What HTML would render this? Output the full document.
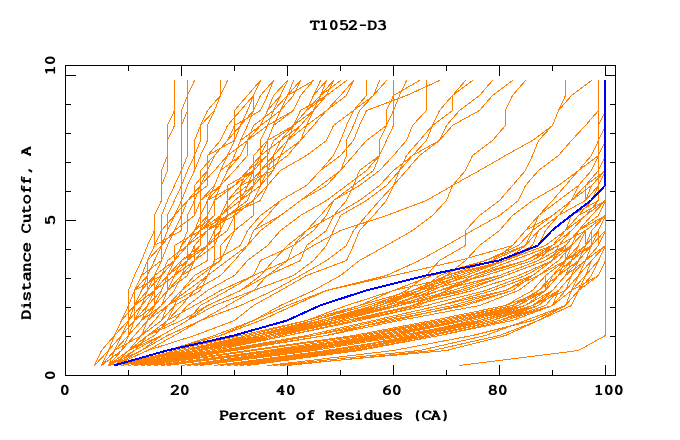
<!DOCTYPE html>
<html><head><meta charset="utf-8">
<title>T1052-D3</title>
<style>
html,body{margin:0;padding:0;background:#fff;}
body{width:680px;height:440px;overflow:hidden;}
svg{display:block;}
text{font-family:"Liberation Mono",monospace;font-weight:bold;font-size:16px;visibility:hidden;}
</style></head><body>
<svg width="680" height="440" viewBox="0 0 680 440">
<rect width="680" height="440" fill="#fff"/>
<g id="axes" fill="none" stroke="#000" stroke-width="1" shape-rendering="crispEdges">
<rect x="65.5" y="65.5" width="550" height="310"/>
<path d="M65.5 75.5h10M65.5 220.5h10M615.5 75.5h-11M615.5 220.5h-11"/>
<path d="M65.5 104.5h5M65.5 133.5h5M65.5 162.5h5M65.5 191.5h5M65.5 249.5h5M65.5 278.5h5M65.5 307.5h5M65.5 336.5h5"/>
<path d="M615.5 104.5h-6M615.5 133.5h-6M615.5 162.5h-6M615.5 191.5h-6M615.5 249.5h-6M615.5 278.5h-6M615.5 307.5h-6M615.5 336.5h-6"/>
<path d="M181.5 65.5v10M287.5 65.5v10M393.5 65.5v10M499.5 65.5v10M605.5 65.5v10M181.5 375.5v-11M287.5 375.5v-11M393.5 375.5v-11M499.5 375.5v-11M605.5 375.5v-11"/>
<path d="M128.5 65.5v5M234.5 65.5v5M340.5 65.5v5M446.5 65.5v5M552.5 65.5v5M128.5 375.5v-6M234.5 375.5v-6M340.5 375.5v-6M446.5 375.5v-6M552.5 375.5v-6"/>
</g>
<g id="lines" fill="none" stroke="#ff7f00" stroke-width="1" stroke-linecap="square" shape-rendering="crispEdges">
<path d="M174.5 80.5L174.5 95.5M187.5 80.5L187.5 95.5M194.5 80.5L187.5 95.5M220.5 80.5L220.5 95.5M227.5 80.5L220.5 95.5M260.5 80.5L247.5 95.5M260.5 80.5L253.5 95.5M273.5 80.5L260.5 95.5M273.5 80.5L267.5 95.5M287.5 80.5L273.5 95.5M287.5 80.5L280.5 95.5M293.5 80.5L287.5 95.5M300.5 80.5L287.5 95.5M300.5 80.5L293.5 95.5M313.5 80.5L287.5 95.5M313.5 80.5L300.5 95.5M320.5 80.5L313.5 95.5M326.5 80.5L313.5 95.5M326.5 80.5L320.5 95.5M333.5 80.5L320.5 95.5M333.5 80.5L326.5 95.5M340.5 80.5L320.5 95.5M346.5 80.5L326.5 95.5M353.5 80.5L340.5 95.5M353.5 80.5L346.5 95.5M366.5 80.5L366.5 95.5M379.5 80.5L373.5 95.5M386.5 80.5L373.5 95.5M393.5 80.5L393.5 95.5M406.5 80.5L399.5 95.5M419.5 80.5L393.5 95.5M426.5 80.5L426.5 95.5M439.5 80.5L406.5 95.5M465.5 80.5L452.5 95.5M472.5 80.5L452.5 95.5M492.5 80.5L479.5 95.5M512.5 80.5L492.5 95.5M525.5 80.5L512.5 95.5M565.5 80.5L565.5 95.5M591.5 80.5L571.5 95.5M598.5 80.5L598.5 95.5M605.5 80.5L605.5 95.5M174.5 95.5L174.5 110.5M187.5 95.5L181.5 110.5M187.5 95.5L187.5 110.5M220.5 95.5L207.5 110.5M220.5 95.5L214.5 110.5M247.5 95.5L234.5 110.5M253.5 95.5L240.5 110.5M253.5 95.5L247.5 110.5M253.5 95.5L253.5 110.5M260.5 95.5L253.5 110.5M267.5 95.5L260.5 110.5M273.5 95.5L267.5 110.5M280.5 95.5L267.5 110.5M280.5 95.5L273.5 110.5M287.5 95.5L273.5 110.5M287.5 95.5L280.5 110.5M293.5 95.5L280.5 110.5M300.5 95.5L293.5 110.5M313.5 95.5L306.5 110.5M320.5 95.5L306.5 110.5M320.5 95.5L313.5 110.5M326.5 95.5L300.5 110.5M326.5 95.5L306.5 110.5M326.5 95.5L313.5 110.5M340.5 95.5L326.5 110.5M346.5 95.5L326.5 110.5M366.5 95.5L353.5 110.5M373.5 95.5L353.5 110.5M373.5 95.5L359.5 110.5M393.5 95.5L386.5 110.5M393.5 95.5L393.5 110.5M399.5 95.5L393.5 110.5M406.5 95.5L366.5 110.5M426.5 95.5L426.5 110.5M452.5 95.5L439.5 110.5M452.5 95.5L452.5 110.5M479.5 95.5L459.5 110.5M492.5 95.5L479.5 110.5M512.5 95.5L505.5 110.5M565.5 95.5L558.5 110.5M571.5 95.5L558.5 110.5M598.5 95.5L598.5 110.5M605.5 95.5L605.5 110.5M174.5 110.5L167.5 125.5M174.5 110.5L174.5 125.5M181.5 110.5L181.5 125.5M187.5 110.5L181.5 125.5M187.5 110.5L187.5 125.5M207.5 110.5L200.5 125.5M214.5 110.5L200.5 125.5M214.5 110.5L207.5 125.5M234.5 110.5L234.5 125.5M240.5 110.5L227.5 125.5M247.5 110.5L240.5 125.5M253.5 110.5L240.5 125.5M253.5 110.5L247.5 125.5M260.5 110.5L234.5 125.5M267.5 110.5L260.5 125.5M273.5 110.5L253.5 125.5M273.5 110.5L267.5 125.5M280.5 110.5L260.5 125.5M280.5 110.5L273.5 125.5M293.5 110.5L267.5 125.5M293.5 110.5L273.5 125.5M300.5 110.5L293.5 125.5M306.5 110.5L293.5 125.5M313.5 110.5L293.5 125.5M313.5 110.5L300.5 125.5M313.5 110.5L306.5 125.5M326.5 110.5L306.5 125.5M326.5 110.5L313.5 125.5M353.5 110.5L333.5 125.5M353.5 110.5L346.5 125.5M359.5 110.5L353.5 125.5M366.5 110.5L359.5 125.5M386.5 110.5L386.5 125.5M393.5 110.5L386.5 125.5M393.5 110.5L393.5 125.5M426.5 110.5L412.5 125.5M439.5 110.5L432.5 125.5M452.5 110.5L432.5 125.5M459.5 110.5L446.5 125.5M479.5 110.5L452.5 125.5M505.5 110.5L505.5 125.5M558.5 110.5L552.5 125.5M598.5 110.5L585.5 125.5M598.5 110.5L598.5 125.5M605.5 110.5L598.5 125.5M605.5 110.5L605.5 125.5M167.5 125.5L167.5 140.5M174.5 125.5L167.5 140.5M181.5 125.5L181.5 140.5M187.5 125.5L187.5 140.5M200.5 125.5L194.5 140.5M200.5 125.5L200.5 140.5M207.5 125.5L207.5 140.5M227.5 125.5L220.5 140.5M234.5 125.5L227.5 140.5M234.5 125.5L234.5 140.5M240.5 125.5L227.5 140.5M240.5 125.5L234.5 140.5M247.5 125.5L240.5 140.5M253.5 125.5L247.5 140.5M260.5 125.5L240.5 140.5M260.5 125.5L247.5 140.5M267.5 125.5L247.5 140.5M267.5 125.5L260.5 140.5M273.5 125.5L267.5 140.5M293.5 125.5L267.5 140.5M293.5 125.5L273.5 140.5M293.5 125.5L280.5 140.5M293.5 125.5L287.5 140.5M300.5 125.5L280.5 140.5M300.5 125.5L287.5 140.5M306.5 125.5L287.5 140.5M306.5 125.5L300.5 140.5M313.5 125.5L300.5 140.5M333.5 125.5L326.5 140.5M346.5 125.5L340.5 140.5M353.5 125.5L346.5 140.5M359.5 125.5L353.5 140.5M386.5 125.5L366.5 140.5M386.5 125.5L379.5 140.5M393.5 125.5L386.5 140.5M412.5 125.5L406.5 140.5M432.5 125.5L419.5 140.5M432.5 125.5L426.5 140.5M446.5 125.5L439.5 140.5M452.5 125.5L439.5 140.5M505.5 125.5L492.5 140.5M552.5 125.5L532.5 140.5M552.5 125.5L538.5 140.5M585.5 125.5L571.5 140.5M598.5 125.5L598.5 140.5M605.5 125.5L598.5 140.5M605.5 125.5L605.5 140.5M167.5 140.5L167.5 155.5M181.5 140.5L181.5 155.5M187.5 140.5L187.5 155.5M194.5 140.5L194.5 155.5M200.5 140.5L194.5 155.5M207.5 140.5L200.5 155.5M220.5 140.5L207.5 155.5M227.5 140.5L214.5 155.5M234.5 140.5L207.5 155.5M234.5 140.5L227.5 155.5M240.5 140.5L234.5 155.5M247.5 140.5L227.5 155.5M247.5 140.5L240.5 155.5M247.5 140.5L247.5 155.5M260.5 140.5L260.5 155.5M267.5 140.5L253.5 155.5M267.5 140.5L260.5 155.5M267.5 140.5L267.5 155.5M273.5 140.5L267.5 155.5M280.5 140.5L260.5 155.5M280.5 140.5L273.5 155.5M287.5 140.5L273.5 155.5M287.5 140.5L280.5 155.5M300.5 140.5L280.5 155.5M300.5 140.5L287.5 155.5M326.5 140.5L306.5 155.5M340.5 140.5L333.5 155.5M346.5 140.5L346.5 155.5M353.5 140.5L340.5 155.5M366.5 140.5L353.5 155.5M379.5 140.5L379.5 155.5M386.5 140.5L379.5 155.5M406.5 140.5L393.5 155.5M419.5 140.5L406.5 155.5M426.5 140.5L412.5 155.5M439.5 140.5L412.5 155.5M439.5 140.5L419.5 155.5M492.5 140.5L472.5 155.5M532.5 140.5L505.5 155.5M538.5 140.5L532.5 155.5M571.5 140.5L558.5 155.5M598.5 140.5L591.5 155.5M598.5 140.5L598.5 155.5M605.5 140.5L598.5 155.5M605.5 140.5L605.5 155.5M167.5 155.5L161.5 170.5M167.5 155.5L167.5 170.5M181.5 155.5L181.5 170.5M187.5 155.5L181.5 170.5M194.5 155.5L187.5 170.5M194.5 155.5L194.5 170.5M200.5 155.5L194.5 170.5M207.5 155.5L207.5 170.5M214.5 155.5L200.5 170.5M214.5 155.5L207.5 170.5M227.5 155.5L214.5 170.5M227.5 155.5L220.5 170.5M234.5 155.5L227.5 170.5M240.5 155.5L220.5 170.5M240.5 155.5L227.5 170.5M247.5 155.5L234.5 170.5M253.5 155.5L253.5 170.5M260.5 155.5L247.5 170.5M260.5 155.5L253.5 170.5M260.5 155.5L260.5 170.5M267.5 155.5L247.5 170.5M267.5 155.5L253.5 170.5M267.5 155.5L267.5 170.5M273.5 155.5L260.5 170.5M273.5 155.5L267.5 170.5M273.5 155.5L273.5 170.5M280.5 155.5L260.5 170.5M280.5 155.5L273.5 170.5M287.5 155.5L267.5 170.5M306.5 155.5L280.5 170.5M333.5 155.5L320.5 170.5M340.5 155.5L320.5 170.5M346.5 155.5L340.5 170.5M353.5 155.5L340.5 170.5M379.5 155.5L359.5 170.5M379.5 155.5L366.5 170.5M379.5 155.5L373.5 170.5M393.5 155.5L379.5 170.5M406.5 155.5L399.5 170.5M412.5 155.5L393.5 170.5M412.5 155.5L399.5 170.5M419.5 155.5L406.5 170.5M472.5 155.5L465.5 170.5M505.5 155.5L479.5 170.5M532.5 155.5L525.5 170.5M558.5 155.5L538.5 170.5M591.5 155.5L578.5 170.5M598.5 155.5L578.5 170.5M598.5 155.5L591.5 170.5M598.5 155.5L598.5 170.5M605.5 155.5L598.5 170.5M605.5 155.5L605.5 170.5M161.5 170.5L161.5 185.5M167.5 170.5L161.5 185.5M181.5 170.5L174.5 185.5M181.5 170.5L181.5 185.5M187.5 170.5L181.5 185.5M194.5 170.5L187.5 185.5M200.5 170.5L200.5 185.5M207.5 170.5L194.5 185.5M207.5 170.5L200.5 185.5M207.5 170.5L207.5 185.5M214.5 170.5L200.5 185.5M220.5 170.5L214.5 185.5M227.5 170.5L220.5 185.5M234.5 170.5L220.5 185.5M247.5 170.5L234.5 185.5M247.5 170.5L240.5 185.5M253.5 170.5L227.5 185.5M253.5 170.5L234.5 185.5M253.5 170.5L240.5 185.5M253.5 170.5L247.5 185.5M253.5 170.5L253.5 185.5M260.5 170.5L247.5 185.5M260.5 170.5L253.5 185.5M260.5 170.5L260.5 185.5M267.5 170.5L253.5 185.5M267.5 170.5L260.5 185.5M267.5 170.5L267.5 185.5M273.5 170.5L240.5 185.5M273.5 170.5L260.5 185.5M280.5 170.5L267.5 185.5M320.5 170.5L306.5 185.5M340.5 170.5L320.5 185.5M340.5 170.5L326.5 185.5M359.5 170.5L353.5 185.5M366.5 170.5L346.5 185.5M373.5 170.5L353.5 185.5M379.5 170.5L359.5 185.5M393.5 170.5L379.5 185.5M399.5 170.5L386.5 185.5M399.5 170.5L393.5 185.5M406.5 170.5L393.5 185.5M465.5 170.5L452.5 185.5M479.5 170.5L452.5 185.5M525.5 170.5L512.5 185.5M538.5 170.5L525.5 185.5M578.5 170.5L558.5 185.5M578.5 170.5L565.5 185.5M591.5 170.5L578.5 185.5M598.5 170.5L585.5 185.5M598.5 170.5L598.5 185.5M605.5 170.5L585.5 185.5M605.5 170.5L591.5 185.5M605.5 170.5L598.5 185.5M605.5 170.5L605.5 185.5M161.5 185.5L161.5 200.5M174.5 185.5L167.5 200.5M181.5 185.5L174.5 200.5M181.5 185.5L181.5 200.5M187.5 185.5L181.5 200.5M194.5 185.5L194.5 200.5M200.5 185.5L187.5 200.5M200.5 185.5L194.5 200.5M200.5 185.5L200.5 200.5M207.5 185.5L187.5 200.5M214.5 185.5L200.5 200.5M214.5 185.5L207.5 200.5M220.5 185.5L200.5 200.5M220.5 185.5L207.5 200.5M220.5 185.5L214.5 200.5M227.5 185.5L227.5 200.5M234.5 185.5L207.5 200.5M234.5 185.5L214.5 200.5M240.5 185.5L227.5 200.5M240.5 185.5L240.5 200.5M247.5 185.5L227.5 200.5M247.5 185.5L240.5 200.5M253.5 185.5L234.5 200.5M253.5 185.5L240.5 200.5M253.5 185.5L247.5 200.5M260.5 185.5L240.5 200.5M260.5 185.5L253.5 200.5M267.5 185.5L253.5 200.5M267.5 185.5L260.5 200.5M306.5 185.5L280.5 200.5M320.5 185.5L300.5 200.5M326.5 185.5L300.5 200.5M346.5 185.5L326.5 200.5M353.5 185.5L333.5 200.5M353.5 185.5L346.5 200.5M359.5 185.5L333.5 200.5M379.5 185.5L359.5 200.5M386.5 185.5L366.5 200.5M393.5 185.5L379.5 200.5M393.5 185.5L386.5 200.5M452.5 185.5L426.5 200.5M452.5 185.5L446.5 200.5M512.5 185.5L499.5 200.5M525.5 185.5L518.5 200.5M558.5 185.5L532.5 200.5M565.5 185.5L552.5 200.5M578.5 185.5L558.5 200.5M578.5 185.5L571.5 200.5M585.5 185.5L571.5 200.5M585.5 185.5L585.5 200.5M591.5 185.5L571.5 200.5M591.5 185.5L585.5 200.5M598.5 185.5L585.5 200.5M598.5 185.5L591.5 200.5M598.5 185.5L598.5 200.5M605.5 185.5L591.5 200.5M605.5 185.5L605.5 200.5M161.5 200.5L154.5 215.5M167.5 200.5L161.5 215.5M174.5 200.5L167.5 215.5M181.5 200.5L174.5 215.5M181.5 200.5L181.5 215.5M187.5 200.5L174.5 215.5M187.5 200.5L181.5 215.5M194.5 200.5L187.5 215.5M194.5 200.5L194.5 215.5M200.5 200.5L194.5 215.5M200.5 200.5L200.5 215.5M207.5 200.5L200.5 215.5M207.5 200.5L207.5 215.5M214.5 200.5L207.5 215.5M214.5 200.5L214.5 215.5M227.5 200.5L220.5 215.5M227.5 200.5L227.5 215.5M234.5 200.5L220.5 215.5M240.5 200.5L220.5 215.5M240.5 200.5L234.5 215.5M247.5 200.5L227.5 215.5M253.5 200.5L227.5 215.5M253.5 200.5L234.5 215.5M253.5 200.5L253.5 215.5M260.5 200.5L227.5 215.5M280.5 200.5L260.5 215.5M280.5 200.5L267.5 215.5M300.5 200.5L280.5 215.5M326.5 200.5L300.5 215.5M333.5 200.5L320.5 215.5M333.5 200.5L326.5 215.5M346.5 200.5L333.5 215.5M359.5 200.5L333.5 215.5M366.5 200.5L340.5 215.5M379.5 200.5L366.5 215.5M386.5 200.5L373.5 215.5M426.5 200.5L386.5 215.5M446.5 200.5L432.5 215.5M499.5 200.5L479.5 215.5M518.5 200.5L499.5 215.5M532.5 200.5L512.5 215.5M552.5 200.5L538.5 215.5M558.5 200.5L538.5 215.5M571.5 200.5L552.5 215.5M571.5 200.5L558.5 215.5M585.5 200.5L558.5 215.5M591.5 200.5L578.5 215.5M598.5 200.5L571.5 215.5M598.5 200.5L585.5 215.5M605.5 200.5L578.5 215.5M605.5 200.5L585.5 215.5M605.5 200.5L591.5 215.5M605.5 200.5L598.5 215.5M605.5 200.5L605.5 215.5M154.5 215.5L154.5 230.5M161.5 215.5L161.5 230.5M167.5 215.5L167.5 230.5M174.5 215.5L161.5 230.5M174.5 215.5L167.5 230.5M181.5 215.5L174.5 230.5M181.5 215.5L181.5 230.5M187.5 215.5L187.5 230.5M194.5 215.5L174.5 230.5M200.5 215.5L194.5 230.5M200.5 215.5L200.5 230.5M207.5 215.5L194.5 230.5M207.5 215.5L200.5 230.5M207.5 215.5L207.5 230.5M214.5 215.5L194.5 230.5M214.5 215.5L200.5 230.5M220.5 215.5L200.5 230.5M220.5 215.5L207.5 230.5M220.5 215.5L214.5 230.5M220.5 215.5L220.5 230.5M227.5 215.5L200.5 230.5M227.5 215.5L207.5 230.5M227.5 215.5L214.5 230.5M227.5 215.5L220.5 230.5M234.5 215.5L207.5 230.5M234.5 215.5L227.5 230.5M234.5 215.5L234.5 230.5M253.5 215.5L234.5 230.5M260.5 215.5L247.5 230.5M267.5 215.5L253.5 230.5M280.5 215.5L253.5 230.5M280.5 215.5L260.5 230.5M300.5 215.5L280.5 230.5M320.5 215.5L306.5 230.5M326.5 215.5L313.5 230.5M333.5 215.5L306.5 230.5M333.5 215.5L326.5 230.5M340.5 215.5L333.5 230.5M366.5 215.5L353.5 230.5M373.5 215.5L359.5 230.5M386.5 215.5L340.5 230.5M432.5 215.5L412.5 230.5M479.5 215.5L465.5 230.5M499.5 215.5L472.5 230.5M512.5 215.5L499.5 230.5M538.5 215.5L525.5 230.5M538.5 215.5L532.5 230.5M552.5 215.5L525.5 230.5M552.5 215.5L532.5 230.5M558.5 215.5L538.5 230.5M558.5 215.5L545.5 230.5M571.5 215.5L565.5 230.5M578.5 215.5L565.5 230.5M585.5 215.5L565.5 230.5M585.5 215.5L571.5 230.5M591.5 215.5L578.5 230.5M598.5 215.5L578.5 230.5M605.5 215.5L578.5 230.5M605.5 215.5L585.5 230.5M605.5 215.5L591.5 230.5M605.5 215.5L598.5 230.5M605.5 215.5L605.5 230.5M154.5 230.5L147.5 245.5M154.5 230.5L154.5 245.5M161.5 230.5L154.5 245.5M161.5 230.5L161.5 245.5M167.5 230.5L161.5 245.5M174.5 230.5L161.5 245.5M174.5 230.5L167.5 245.5M181.5 230.5L154.5 245.5M187.5 230.5L181.5 245.5M194.5 230.5L181.5 245.5M194.5 230.5L187.5 245.5M200.5 230.5L174.5 245.5M200.5 230.5L187.5 245.5M200.5 230.5L200.5 245.5M207.5 230.5L187.5 245.5M207.5 230.5L194.5 245.5M207.5 230.5L207.5 245.5M214.5 230.5L207.5 245.5M214.5 230.5L214.5 245.5M220.5 230.5L207.5 245.5M220.5 230.5L214.5 245.5M227.5 230.5L207.5 245.5M234.5 230.5L220.5 245.5M234.5 230.5L227.5 245.5M247.5 230.5L240.5 245.5M253.5 230.5L247.5 245.5M260.5 230.5L247.5 245.5M280.5 230.5L267.5 245.5M306.5 230.5L287.5 245.5M306.5 230.5L293.5 245.5M313.5 230.5L293.5 245.5M326.5 230.5L306.5 245.5M333.5 230.5L326.5 245.5M340.5 230.5L313.5 245.5M353.5 230.5L346.5 245.5M359.5 230.5L353.5 245.5M412.5 230.5L386.5 245.5M465.5 230.5L465.5 245.5M472.5 230.5L446.5 245.5M499.5 230.5L479.5 245.5M525.5 230.5L512.5 245.5M532.5 230.5L518.5 245.5M532.5 230.5L525.5 245.5M538.5 230.5L525.5 245.5M538.5 230.5L532.5 245.5M545.5 230.5L538.5 245.5M565.5 230.5L545.5 245.5M565.5 230.5L552.5 245.5M571.5 230.5L552.5 245.5M571.5 230.5L558.5 245.5M578.5 230.5L565.5 245.5M578.5 230.5L571.5 245.5M585.5 230.5L558.5 245.5M585.5 230.5L571.5 245.5M585.5 230.5L578.5 245.5M585.5 230.5L585.5 245.5M591.5 230.5L585.5 245.5M591.5 230.5L591.5 245.5M598.5 230.5L585.5 245.5M598.5 230.5L591.5 245.5M598.5 230.5L598.5 245.5M605.5 230.5L591.5 245.5M605.5 230.5L598.5 245.5M605.5 230.5L605.5 245.5M147.5 245.5L141.5 260.5M154.5 245.5L147.5 260.5M161.5 245.5L147.5 260.5M161.5 245.5L154.5 260.5M161.5 245.5L161.5 260.5M167.5 245.5L161.5 260.5M174.5 245.5L174.5 260.5M181.5 245.5L174.5 260.5M187.5 245.5L167.5 260.5M187.5 245.5L174.5 260.5M187.5 245.5L187.5 260.5M194.5 245.5L187.5 260.5M194.5 245.5L194.5 260.5M200.5 245.5L181.5 260.5M200.5 245.5L187.5 260.5M207.5 245.5L181.5 260.5M207.5 245.5L187.5 260.5M207.5 245.5L194.5 260.5M207.5 245.5L207.5 260.5M214.5 245.5L194.5 260.5M214.5 245.5L214.5 260.5M220.5 245.5L220.5 260.5M227.5 245.5L220.5 260.5M240.5 245.5L214.5 260.5M247.5 245.5L227.5 260.5M247.5 245.5L234.5 260.5M267.5 245.5L247.5 260.5M287.5 245.5L273.5 260.5M293.5 245.5L260.5 260.5M293.5 245.5L287.5 260.5M306.5 245.5L300.5 260.5M313.5 245.5L287.5 260.5M326.5 245.5L313.5 260.5M346.5 245.5L326.5 260.5M353.5 245.5L346.5 260.5M386.5 245.5L359.5 260.5M446.5 245.5L419.5 260.5M465.5 245.5L439.5 260.5M479.5 245.5L465.5 260.5M512.5 245.5L459.5 260.5M512.5 245.5L492.5 260.5M518.5 245.5L485.5 260.5M525.5 245.5L485.5 260.5M525.5 245.5L492.5 260.5M525.5 245.5L505.5 260.5M532.5 245.5L505.5 260.5M538.5 245.5L505.5 260.5M545.5 245.5L505.5 260.5M552.5 245.5L512.5 260.5M552.5 245.5L525.5 260.5M552.5 245.5L532.5 260.5M552.5 245.5L538.5 260.5M558.5 245.5L525.5 260.5M558.5 245.5L532.5 260.5M558.5 245.5L552.5 260.5M565.5 245.5L538.5 260.5M565.5 245.5L545.5 260.5M565.5 245.5L552.5 260.5M565.5 245.5L565.5 260.5M571.5 245.5L545.5 260.5M571.5 245.5L552.5 260.5M571.5 245.5L558.5 260.5M571.5 245.5L565.5 260.5M578.5 245.5L565.5 260.5M578.5 245.5L571.5 260.5M585.5 245.5L565.5 260.5M585.5 245.5L571.5 260.5M585.5 245.5L578.5 260.5M591.5 245.5L565.5 260.5M591.5 245.5L571.5 260.5M591.5 245.5L578.5 260.5M591.5 245.5L585.5 260.5M598.5 245.5L585.5 260.5M605.5 245.5L585.5 260.5M605.5 245.5L591.5 260.5M605.5 245.5L598.5 260.5M605.5 245.5L605.5 260.5M141.5 260.5L134.5 275.5M147.5 260.5L141.5 275.5M147.5 260.5L147.5 275.5M154.5 260.5L147.5 275.5M161.5 260.5L141.5 275.5M161.5 260.5L154.5 275.5M167.5 260.5L161.5 275.5M174.5 260.5L154.5 275.5M174.5 260.5L161.5 275.5M174.5 260.5L167.5 275.5M181.5 260.5L167.5 275.5M181.5 260.5L174.5 275.5M187.5 260.5L167.5 275.5M187.5 260.5L174.5 275.5M187.5 260.5L181.5 275.5M194.5 260.5L174.5 275.5M194.5 260.5L181.5 275.5M194.5 260.5L187.5 275.5M207.5 260.5L181.5 275.5M214.5 260.5L207.5 275.5M220.5 260.5L194.5 275.5M220.5 260.5L200.5 275.5M227.5 260.5L207.5 275.5M234.5 260.5L220.5 275.5M247.5 260.5L234.5 275.5M260.5 260.5L253.5 275.5M273.5 260.5L260.5 275.5M287.5 260.5L253.5 275.5M287.5 260.5L267.5 275.5M300.5 260.5L267.5 275.5M313.5 260.5L293.5 275.5M326.5 260.5L300.5 275.5M346.5 260.5L306.5 275.5M359.5 260.5L340.5 275.5M419.5 260.5L386.5 275.5M439.5 260.5L426.5 275.5M459.5 260.5L393.5 275.5M465.5 260.5L446.5 275.5M485.5 260.5L432.5 275.5M485.5 260.5L439.5 275.5M492.5 260.5L446.5 275.5M505.5 260.5L446.5 275.5M505.5 260.5L452.5 275.5M505.5 260.5L459.5 275.5M505.5 260.5L465.5 275.5M512.5 260.5L472.5 275.5M525.5 260.5L472.5 275.5M525.5 260.5L479.5 275.5M532.5 260.5L485.5 275.5M538.5 260.5L499.5 275.5M545.5 260.5L505.5 275.5M552.5 260.5L518.5 275.5M552.5 260.5L525.5 275.5M552.5 260.5L532.5 275.5M558.5 260.5L538.5 275.5M565.5 260.5L538.5 275.5M565.5 260.5L545.5 275.5M565.5 260.5L552.5 275.5M565.5 260.5L558.5 275.5M571.5 260.5L552.5 275.5M571.5 260.5L558.5 275.5M571.5 260.5L565.5 275.5M578.5 260.5L558.5 275.5M578.5 260.5L565.5 275.5M578.5 260.5L571.5 275.5M585.5 260.5L565.5 275.5M585.5 260.5L571.5 275.5M585.5 260.5L578.5 275.5M591.5 260.5L578.5 275.5M591.5 260.5L585.5 275.5M598.5 260.5L585.5 275.5M598.5 260.5L591.5 275.5M605.5 260.5L598.5 275.5M605.5 260.5L605.5 275.5M134.5 275.5L128.5 290.5M141.5 275.5L134.5 290.5M147.5 275.5L134.5 290.5M147.5 275.5L141.5 290.5M147.5 275.5L147.5 290.5M154.5 275.5L141.5 290.5M154.5 275.5L147.5 290.5M154.5 275.5L154.5 290.5M161.5 275.5L134.5 290.5M161.5 275.5L147.5 290.5M161.5 275.5L154.5 290.5M167.5 275.5L154.5 290.5M167.5 275.5L161.5 290.5M167.5 275.5L167.5 290.5M174.5 275.5L154.5 290.5M174.5 275.5L167.5 290.5M181.5 275.5L167.5 290.5M181.5 275.5L174.5 290.5M187.5 275.5L167.5 290.5M194.5 275.5L181.5 290.5M200.5 275.5L181.5 290.5M207.5 275.5L187.5 290.5M207.5 275.5L194.5 290.5M207.5 275.5L200.5 290.5M220.5 275.5L194.5 290.5M234.5 275.5L207.5 290.5M253.5 275.5L220.5 290.5M253.5 275.5L227.5 290.5M260.5 275.5L240.5 290.5M267.5 275.5L240.5 290.5M267.5 275.5L253.5 290.5M293.5 275.5L253.5 290.5M300.5 275.5L273.5 290.5M306.5 275.5L280.5 290.5M340.5 275.5L313.5 290.5M386.5 275.5L326.5 290.5M393.5 275.5L326.5 290.5M426.5 275.5L406.5 290.5M432.5 275.5L393.5 290.5M439.5 275.5L419.5 290.5M446.5 275.5L412.5 290.5M446.5 275.5L419.5 290.5M446.5 275.5L426.5 290.5M452.5 275.5L419.5 290.5M459.5 275.5L393.5 290.5M459.5 275.5L426.5 290.5M465.5 275.5L412.5 290.5M465.5 275.5L432.5 290.5M472.5 275.5L419.5 290.5M472.5 275.5L446.5 290.5M479.5 275.5L439.5 290.5M479.5 275.5L446.5 290.5M485.5 275.5L426.5 290.5M499.5 275.5L439.5 290.5M499.5 275.5L452.5 290.5M505.5 275.5L459.5 290.5M505.5 275.5L465.5 290.5M518.5 275.5L472.5 290.5M525.5 275.5L485.5 290.5M532.5 275.5L492.5 290.5M532.5 275.5L505.5 290.5M532.5 275.5L512.5 290.5M538.5 275.5L505.5 290.5M538.5 275.5L518.5 290.5M545.5 275.5L532.5 290.5M545.5 275.5L545.5 290.5M552.5 275.5L538.5 290.5M552.5 275.5L545.5 290.5M558.5 275.5L538.5 290.5M558.5 275.5L545.5 290.5M565.5 275.5L552.5 290.5M571.5 275.5L558.5 290.5M571.5 275.5L565.5 290.5M578.5 275.5L565.5 290.5M578.5 275.5L571.5 290.5M585.5 275.5L571.5 290.5M585.5 275.5L578.5 290.5M591.5 275.5L578.5 290.5M598.5 275.5L571.5 290.5M598.5 275.5L578.5 290.5M605.5 275.5L605.5 290.5M128.5 290.5L128.5 305.5M134.5 290.5L128.5 305.5M134.5 290.5L134.5 305.5M141.5 290.5L134.5 305.5M147.5 290.5L134.5 305.5M147.5 290.5L141.5 305.5M154.5 290.5L134.5 305.5M154.5 290.5L141.5 305.5M154.5 290.5L147.5 305.5M154.5 290.5L154.5 305.5M161.5 290.5L147.5 305.5M161.5 290.5L154.5 305.5M167.5 290.5L154.5 305.5M167.5 290.5L161.5 305.5M174.5 290.5L161.5 305.5M181.5 290.5L167.5 305.5M181.5 290.5L174.5 305.5M187.5 290.5L167.5 305.5M194.5 290.5L167.5 305.5M194.5 290.5L181.5 305.5M200.5 290.5L174.5 305.5M207.5 290.5L187.5 305.5M220.5 290.5L194.5 305.5M227.5 290.5L200.5 305.5M240.5 290.5L207.5 305.5M253.5 290.5L214.5 305.5M253.5 290.5L227.5 305.5M273.5 290.5L240.5 305.5M280.5 290.5L253.5 305.5M313.5 290.5L280.5 305.5M326.5 290.5L287.5 305.5M326.5 290.5L293.5 305.5M393.5 290.5L346.5 305.5M393.5 290.5L359.5 305.5M406.5 290.5L373.5 305.5M412.5 290.5L359.5 305.5M412.5 290.5L379.5 305.5M419.5 290.5L366.5 305.5M419.5 290.5L373.5 305.5M419.5 290.5L379.5 305.5M419.5 290.5L386.5 305.5M426.5 290.5L379.5 305.5M426.5 290.5L393.5 305.5M432.5 290.5L393.5 305.5M439.5 290.5L386.5 305.5M439.5 290.5L399.5 305.5M446.5 290.5L412.5 305.5M446.5 290.5L419.5 305.5M452.5 290.5L393.5 305.5M459.5 290.5L399.5 305.5M465.5 290.5L399.5 305.5M472.5 290.5L412.5 305.5M485.5 290.5L426.5 305.5M492.5 290.5L439.5 305.5M505.5 290.5L439.5 305.5M505.5 290.5L452.5 305.5M512.5 290.5L459.5 305.5M512.5 290.5L465.5 305.5M518.5 290.5L479.5 305.5M532.5 290.5L505.5 305.5M538.5 290.5L512.5 305.5M538.5 290.5L518.5 305.5M545.5 290.5L505.5 305.5M545.5 290.5L512.5 305.5M545.5 290.5L518.5 305.5M545.5 290.5L525.5 305.5M552.5 290.5L525.5 305.5M552.5 290.5L532.5 305.5M552.5 290.5L538.5 305.5M558.5 290.5L532.5 305.5M558.5 290.5L538.5 305.5M558.5 290.5L545.5 305.5M558.5 290.5L552.5 305.5M565.5 290.5L532.5 305.5M565.5 290.5L552.5 305.5M571.5 290.5L552.5 305.5M571.5 290.5L565.5 305.5M578.5 290.5L565.5 305.5M578.5 290.5L571.5 305.5M605.5 290.5L605.5 305.5M128.5 305.5L121.5 320.5M128.5 305.5L128.5 320.5M134.5 305.5L121.5 320.5M134.5 305.5L128.5 320.5M134.5 305.5L134.5 320.5M141.5 305.5L128.5 320.5M141.5 305.5L134.5 320.5M147.5 305.5L134.5 320.5M147.5 305.5L141.5 320.5M154.5 305.5L134.5 320.5M154.5 305.5L141.5 320.5M154.5 305.5L147.5 320.5M161.5 305.5L141.5 320.5M161.5 305.5L147.5 320.5M167.5 305.5L147.5 320.5M167.5 305.5L154.5 320.5M167.5 305.5L161.5 320.5M174.5 305.5L161.5 320.5M174.5 305.5L167.5 320.5M181.5 305.5L167.5 320.5M187.5 305.5L174.5 320.5M194.5 305.5L167.5 320.5M200.5 305.5L187.5 320.5M207.5 305.5L181.5 320.5M207.5 305.5L187.5 320.5M214.5 305.5L187.5 320.5M227.5 305.5L200.5 320.5M240.5 305.5L200.5 320.5M253.5 305.5L234.5 320.5M280.5 305.5L253.5 320.5M287.5 305.5L253.5 320.5M293.5 305.5L260.5 320.5M346.5 305.5L306.5 320.5M359.5 305.5L306.5 320.5M359.5 305.5L313.5 320.5M366.5 305.5L313.5 320.5M373.5 305.5L320.5 320.5M373.5 305.5L326.5 320.5M379.5 305.5L320.5 320.5M379.5 305.5L326.5 320.5M379.5 305.5L333.5 320.5M386.5 305.5L326.5 320.5M386.5 305.5L333.5 320.5M393.5 305.5L333.5 320.5M399.5 305.5L333.5 320.5M399.5 305.5L340.5 320.5M412.5 305.5L346.5 320.5M412.5 305.5L353.5 320.5M419.5 305.5L346.5 320.5M426.5 305.5L353.5 320.5M426.5 305.5L359.5 320.5M439.5 305.5L373.5 320.5M452.5 305.5L379.5 320.5M459.5 305.5L393.5 320.5M465.5 305.5L386.5 320.5M479.5 305.5L399.5 320.5M505.5 305.5L432.5 320.5M512.5 305.5L439.5 320.5M512.5 305.5L446.5 320.5M518.5 305.5L452.5 320.5M518.5 305.5L459.5 320.5M518.5 305.5L465.5 320.5M525.5 305.5L459.5 320.5M525.5 305.5L465.5 320.5M525.5 305.5L472.5 320.5M525.5 305.5L479.5 320.5M532.5 305.5L479.5 320.5M532.5 305.5L485.5 320.5M532.5 305.5L492.5 320.5M538.5 305.5L485.5 320.5M538.5 305.5L492.5 320.5M538.5 305.5L499.5 320.5M545.5 305.5L499.5 320.5M552.5 305.5L499.5 320.5M552.5 305.5L505.5 320.5M552.5 305.5L512.5 320.5M565.5 305.5L525.5 320.5M565.5 305.5L532.5 320.5M565.5 305.5L538.5 320.5M571.5 305.5L538.5 320.5M605.5 305.5L605.5 320.5M121.5 320.5L114.5 335.5M128.5 320.5L114.5 335.5M128.5 320.5L121.5 335.5M128.5 320.5L128.5 335.5M134.5 320.5L121.5 335.5M134.5 320.5L128.5 335.5M141.5 320.5L128.5 335.5M147.5 320.5L134.5 335.5M147.5 320.5L141.5 335.5M154.5 320.5L141.5 335.5M161.5 320.5L141.5 335.5M167.5 320.5L147.5 335.5M167.5 320.5L154.5 335.5M174.5 320.5L147.5 335.5M181.5 320.5L147.5 335.5M187.5 320.5L161.5 335.5M200.5 320.5L167.5 335.5M200.5 320.5L174.5 335.5M234.5 320.5L194.5 335.5M253.5 320.5L214.5 335.5M253.5 320.5L220.5 335.5M260.5 320.5L220.5 335.5M306.5 320.5L240.5 335.5M306.5 320.5L247.5 335.5M313.5 320.5L253.5 335.5M313.5 320.5L260.5 335.5M320.5 320.5L253.5 335.5M320.5 320.5L260.5 335.5M326.5 320.5L260.5 335.5M326.5 320.5L267.5 335.5M333.5 320.5L267.5 335.5M333.5 320.5L273.5 335.5M333.5 320.5L280.5 335.5M340.5 320.5L273.5 335.5M346.5 320.5L273.5 335.5M346.5 320.5L280.5 335.5M353.5 320.5L287.5 335.5M359.5 320.5L287.5 335.5M373.5 320.5L306.5 335.5M379.5 320.5L313.5 335.5M386.5 320.5L326.5 335.5M393.5 320.5L313.5 335.5M399.5 320.5L326.5 335.5M432.5 320.5L353.5 335.5M439.5 320.5L359.5 335.5M439.5 320.5L366.5 335.5M446.5 320.5L366.5 335.5M452.5 320.5L373.5 335.5M459.5 320.5L379.5 335.5M459.5 320.5L386.5 335.5M465.5 320.5L386.5 335.5M465.5 320.5L393.5 335.5M472.5 320.5L406.5 335.5M479.5 320.5L399.5 335.5M479.5 320.5L406.5 335.5M485.5 320.5L406.5 335.5M485.5 320.5L412.5 335.5M485.5 320.5L419.5 335.5M492.5 320.5L419.5 335.5M499.5 320.5L426.5 335.5M499.5 320.5L432.5 335.5M505.5 320.5L439.5 335.5M512.5 320.5L439.5 335.5M525.5 320.5L485.5 335.5M532.5 320.5L472.5 335.5M538.5 320.5L499.5 335.5M538.5 320.5L505.5 335.5M605.5 320.5L605.5 335.5M114.5 335.5L101.5 350.5M114.5 335.5L108.5 350.5M121.5 335.5L108.5 350.5M121.5 335.5L114.5 350.5M128.5 335.5L114.5 350.5M128.5 335.5L121.5 350.5M134.5 335.5L121.5 350.5M141.5 335.5L114.5 350.5M141.5 335.5L128.5 350.5M147.5 335.5L128.5 350.5M147.5 335.5L134.5 350.5M154.5 335.5L128.5 350.5M161.5 335.5L128.5 350.5M161.5 335.5L134.5 350.5M161.5 335.5L141.5 350.5M167.5 335.5L141.5 350.5M174.5 335.5L147.5 350.5M194.5 335.5L147.5 350.5M214.5 335.5L167.5 350.5M220.5 335.5L167.5 350.5M240.5 335.5L174.5 350.5M247.5 335.5L181.5 350.5M253.5 335.5L181.5 350.5M260.5 335.5L181.5 350.5M260.5 335.5L187.5 350.5M260.5 335.5L194.5 350.5M260.5 335.5L200.5 350.5M267.5 335.5L194.5 350.5M267.5 335.5L200.5 350.5M273.5 335.5L200.5 350.5M273.5 335.5L207.5 350.5M280.5 335.5L207.5 350.5M287.5 335.5L207.5 350.5M287.5 335.5L214.5 350.5M306.5 335.5L220.5 350.5M306.5 335.5L227.5 350.5M313.5 335.5L220.5 350.5M313.5 335.5L227.5 350.5M326.5 335.5L227.5 350.5M326.5 335.5L234.5 350.5M353.5 335.5L247.5 350.5M353.5 335.5L253.5 350.5M359.5 335.5L253.5 350.5M366.5 335.5L267.5 350.5M373.5 335.5L280.5 350.5M379.5 335.5L273.5 350.5M379.5 335.5L287.5 350.5M386.5 335.5L280.5 350.5M386.5 335.5L293.5 350.5M386.5 335.5L300.5 350.5M393.5 335.5L293.5 350.5M399.5 335.5L300.5 350.5M399.5 335.5L306.5 350.5M406.5 335.5L313.5 350.5M412.5 335.5L333.5 350.5M419.5 335.5L326.5 350.5M419.5 335.5L333.5 350.5M419.5 335.5L346.5 350.5M426.5 335.5L340.5 350.5M426.5 335.5L346.5 350.5M432.5 335.5L346.5 350.5M439.5 335.5L353.5 350.5M439.5 335.5L359.5 350.5M472.5 335.5L393.5 350.5M485.5 335.5L419.5 350.5M499.5 335.5L432.5 350.5M505.5 335.5L446.5 350.5M605.5 335.5L578.5 350.5M101.5 350.5L94.5 365.5M108.5 350.5L94.5 365.5M108.5 350.5L101.5 365.5M114.5 350.5L101.5 365.5M114.5 350.5L108.5 365.5M121.5 350.5L101.5 365.5M121.5 350.5L108.5 365.5M128.5 350.5L108.5 365.5M128.5 350.5L114.5 365.5M134.5 350.5L108.5 365.5M134.5 350.5L114.5 365.5M141.5 350.5L108.5 365.5M141.5 350.5L114.5 365.5M147.5 350.5L114.5 365.5M167.5 350.5L114.5 365.5M174.5 350.5L121.5 365.5M181.5 350.5L108.5 365.5M181.5 350.5L114.5 365.5M181.5 350.5L121.5 365.5M187.5 350.5L121.5 365.5M194.5 350.5L114.5 365.5M194.5 350.5L128.5 365.5M200.5 350.5L121.5 365.5M200.5 350.5L128.5 365.5M207.5 350.5L128.5 365.5M207.5 350.5L134.5 365.5M214.5 350.5L128.5 365.5M214.5 350.5L134.5 365.5M220.5 350.5L134.5 365.5M220.5 350.5L141.5 365.5M227.5 350.5L134.5 365.5M227.5 350.5L141.5 365.5M234.5 350.5L141.5 365.5M247.5 350.5L141.5 365.5M253.5 350.5L147.5 365.5M267.5 350.5L154.5 365.5M267.5 350.5L161.5 365.5M273.5 350.5L167.5 365.5M280.5 350.5L167.5 365.5M287.5 350.5L181.5 365.5M293.5 350.5L181.5 365.5M300.5 350.5L187.5 365.5M306.5 350.5L194.5 365.5M313.5 350.5L200.5 365.5M326.5 350.5L214.5 365.5M333.5 350.5L214.5 365.5M333.5 350.5L220.5 365.5M340.5 350.5L220.5 365.5M346.5 350.5L227.5 365.5M353.5 350.5L234.5 365.5M359.5 350.5L240.5 365.5M359.5 350.5L247.5 365.5M393.5 350.5L267.5 365.5M419.5 350.5L273.5 365.5M432.5 350.5L287.5 365.5M446.5 350.5L280.5 365.5M578.5 350.5L459.5 365.5"/>
</g>
<polyline fill="none" stroke="#0000ff" stroke-width="2" shape-rendering="crispEdges" points="605.0,80.0 605.0,95.5 605.0,110.5 605.0,125.5 605.0,140.5 605.0,155.5 605.0,170.5 605.0,185.5 591.0,200.5 571.0,215.5 552.0,230.5 538.0,245.5 499.0,260.5 426.0,275.5 366.0,290.5 320.0,305.5 287.0,320.5 234.0,335.5 167.0,350.5 114.0,365.5"/>
<g id="labels">
<g transform="translate(309.80,30.10)" fill="none" stroke="#000" stroke-width="2.15" stroke-linejoin="round" stroke-linecap="butt"><path transform="translate(0.20,-0.75) scale(1,0.6977)" d="M0.90 -8.80V-11.61H8.70V-8.80M4.80 -11.61V0.00M2.60 0.00H7.00"/><path transform="translate(9.20,-0.75) scale(1,0.6977)" d="M4.90 0.00V-12.37L1.90 -10.59M1.60 0.00H8.10"/><path transform="translate(19.20,-0.75) scale(1,0.6977)" d="M2.05 -6.19A2.75 6.19 0 1 0 7.55 -6.19A2.75 6.19 0 1 0 2.05 -6.19Z"/><path transform="translate(29.20,-0.75) scale(1,0.6977)" d="M7.50 -12.25H2.40V-6.89C3.10 -7.78 4.00 -8.16 5.00 -8.16C6.90 -8.16 8.20 -6.51 8.20 -4.08C8.20 -1.53 6.80 0.13 4.80 0.13C3.30 0.13 2.00 -0.64 1.30 -1.91"/><path transform="translate(38.20,-0.75) scale(1,0.6977)" d="M1.90 -9.18C1.90 -11.23 3.20 -12.50 4.80 -12.50C6.50 -12.50 7.70 -11.10 7.70 -9.18C7.70 -6.76 5.00 -4.34 1.50 0.00H8.00V-1.91"/><path transform="translate(48.20,-0.75) scale(1,0.6977)" d="M1.90 -5.87H8.00"/><path transform="translate(57.20,-0.75) scale(1,0.6977)" d="M0.70 -11.61H4.60C7.40 -11.61 8.70 -8.93 8.70 -5.80C8.70 -2.68 7.40 0.00 4.60 0.00H0.70M2.40 -11.61V0.00"/><path transform="translate(67.20,-0.75) scale(1,0.6977)" d="M1.90 -10.84C2.60 -11.86 3.60 -12.50 4.80 -12.50C6.40 -12.50 7.50 -11.35 7.50 -9.70C7.50 -7.91 6.30 -6.89 4.40 -6.89C6.60 -6.89 8.10 -5.61 8.10 -3.44C8.10 -1.28 6.70 0.13 4.70 0.13C3.20 0.13 2.00 -0.64 1.30 -1.91"/></g>
<g transform="translate(219.40,420.00)" fill="none" stroke="#000" stroke-width="2.15" stroke-linejoin="round" stroke-linecap="butt"><path transform="translate(-0.40,-0.75) scale(1,0.6977)" d="M0.80 -11.61H5.40C7.40 -11.61 8.50 -10.21 8.50 -8.29C8.50 -6.38 7.40 -4.98 5.40 -4.98H2.50M2.50 -11.61V0.00M0.80 0.00H5.20"/><path transform="translate(9.60,-0.75) scale(1,0.6977)" d="M1.30 -4.46H8.30C8.30 -7.14 6.80 -8.80 4.80 -8.80C2.80 -8.80 1.30 -7.02 1.30 -4.34C1.30 -1.66 2.80 0.13 5.00 0.13C6.50 0.13 7.70 -0.64 8.30 -1.79"/><path transform="translate(19.60,-0.75) scale(1,0.6977)" d="M1.40 -8.67H3.30V0.00M1.40 0.00H6.40M3.30 -5.61C4.20 -7.65 5.40 -8.80 6.60 -8.80C7.40 -8.80 8.00 -8.42 8.50 -7.65"/><path transform="translate(28.60,-0.75) scale(1,0.6977)" d="M8.10 -5.87V-8.67M8.10 -6.89C7.50 -8.16 6.40 -8.80 5.10 -8.80C2.90 -8.80 1.30 -7.02 1.30 -4.34C1.30 -1.66 2.90 0.13 5.10 0.13C6.60 0.13 7.80 -0.64 8.50 -2.04"/><path transform="translate(38.60,-0.75) scale(1,0.6977)" d="M1.30 -4.46H8.30C8.30 -7.14 6.80 -8.80 4.80 -8.80C2.80 -8.80 1.30 -7.02 1.30 -4.34C1.30 -1.66 2.80 0.13 5.00 0.13C6.50 0.13 7.70 -0.64 8.30 -1.79"/><path transform="translate(48.60,-0.75) scale(1,0.6977)" d="M0.70 -8.67H2.40V0.00M0.70 0.00H4.00M2.40 -6.25C3.20 -7.91 4.20 -8.80 5.30 -8.80C6.60 -8.80 7.30 -7.65 7.30 -5.87V0.00M5.70 0.00H8.90"/><path transform="translate(57.60,-0.75) scale(1,0.6977)" d="M3.30 -11.48V-2.55C3.30 -0.77 4.20 0.13 5.50 0.13C6.80 0.13 7.80 -0.51 8.50 -1.66M0.90 -8.67H7.60"/><path transform="translate(76.60,-0.75) scale(1,0.6977)" d="M1.30 -4.34A3.50 4.46 0 1 0 8.30 -4.34A3.50 4.46 0 1 0 1.30 -4.34Z"/><path transform="translate(86.60,-0.75) scale(1,0.6977)" d="M1.70 0.00H7.00M4.00 0.00V-9.44C4.00 -11.23 4.90 -12.25 6.20 -12.25C7.10 -12.25 7.90 -11.99 8.60 -11.48M1.70 -8.67H8.00"/><path transform="translate(105.60,-0.75) scale(1,0.6977)" d="M0.50 -11.61H4.80C6.80 -11.61 7.80 -10.21 7.80 -8.42C7.80 -6.63 6.80 -5.36 4.80 -5.36H2.20M2.20 -11.61V0.00M0.50 0.00H4.20M4.80 -5.36C6.00 -4.59 6.60 -2.30 7.40 0.00H9.30"/><path transform="translate(115.60,-0.75) scale(1,0.6977)" d="M1.30 -4.46H8.30C8.30 -7.14 6.80 -8.80 4.80 -8.80C2.80 -8.80 1.30 -7.02 1.30 -4.34C1.30 -1.66 2.80 0.13 5.00 0.13C6.50 0.13 7.70 -0.64 8.30 -1.79"/><path transform="translate(125.60,-0.75) scale(1,0.6977)" d="M7.70 -6.25V-8.42M7.70 -7.14C7.20 -8.16 6.10 -8.80 4.80 -8.80C3.10 -8.80 1.90 -7.91 1.90 -6.51C1.90 -5.10 2.90 -4.72 4.80 -4.34C6.80 -3.95 8.00 -3.57 8.00 -2.17C8.00 -0.77 6.70 0.13 4.90 0.13C3.50 0.13 2.30 -0.51 1.70 -1.66M1.70 0.00V-2.55"/><path transform="translate(134.60,-0.75) scale(1,0.6977)" d="M2.30 -8.67H4.90V0.00M1.60 0.00H8.10M4.70 -12.63V-10.84"/><path transform="translate(144.60,-0.75) scale(1,0.6977)" d="M5.50 -12.25H7.40V0.00H9.20M7.40 -4.34C7.40 -6.89 6.10 -8.80 4.40 -8.80C2.60 -8.80 1.20 -6.89 1.20 -4.34C1.20 -1.79 2.60 0.13 4.40 0.13C6.10 0.13 7.40 -1.79 7.40 -4.34"/><path transform="translate(153.60,-0.75) scale(1,0.6977)" d="M0.50 -8.67H2.20V-2.81C2.20 -1.02 3.00 0.13 4.30 0.13C5.40 0.13 6.40 -0.77 7.20 -2.42M5.40 -8.67H7.20V0.00H9.00"/><path transform="translate(163.60,-0.75) scale(1,0.6977)" d="M1.30 -4.46H8.30C8.30 -7.14 6.80 -8.80 4.80 -8.80C2.80 -8.80 1.30 -7.02 1.30 -4.34C1.30 -1.66 2.80 0.13 5.00 0.13C6.50 0.13 7.70 -0.64 8.30 -1.79"/><path transform="translate(173.60,-0.75) scale(1,0.6977)" d="M7.70 -6.25V-8.42M7.70 -7.14C7.20 -8.16 6.10 -8.80 4.80 -8.80C3.10 -8.80 1.90 -7.91 1.90 -6.51C1.90 -5.10 2.90 -4.72 4.80 -4.34C6.80 -3.95 8.00 -3.57 8.00 -2.17C8.00 -0.77 6.70 0.13 4.90 0.13C3.50 0.13 2.30 -0.51 1.70 -1.66M1.70 0.00V-2.55"/><path transform="translate(192.60,-0.75) scale(1,0.6977)" d="M6.60 -12.76C4.20 -9.18 4.20 -0.77 6.60 2.68"/><path transform="translate(202.60,-0.75) scale(1,0.6977)" d="M8.30 -8.16V-11.61M8.30 -9.44C7.60 -10.97 6.40 -11.74 5.10 -11.74C2.70 -11.74 1.00 -9.31 1.00 -5.80C1.00 -2.30 2.70 0.13 5.10 0.13C6.70 0.13 7.90 -0.77 8.60 -2.55"/><path transform="translate(211.60,-0.75) scale(1,0.6977)" d="M2.20 -11.61H4.80L8.40 0.00M4.80 -11.61L1.20 0.00M2.50 -3.95H7.10M0.00 0.00H3.10M6.50 0.00H9.60"/><path transform="translate(221.60,-0.75) scale(1,0.6977)" d="M3.00 -12.76C5.40 -9.18 5.40 -0.77 3.00 2.68"/></g>
<g transform="translate(30.90,320.10) rotate(-90)" fill="none" stroke="#000" stroke-width="2.15" stroke-linejoin="round" stroke-linecap="butt"><path transform="translate(0.10,-0.75) scale(1,0.6977)" d="M0.70 -11.61H4.60C7.40 -11.61 8.70 -8.93 8.70 -5.80C8.70 -2.68 7.40 0.00 4.60 0.00H0.70M2.40 -11.61V0.00"/><path transform="translate(10.10,-0.75) scale(1,0.6977)" d="M2.30 -8.67H4.90V0.00M1.60 0.00H8.10M4.70 -12.63V-10.84"/><path transform="translate(19.10,-0.75) scale(1,0.6977)" d="M7.70 -6.25V-8.42M7.70 -7.14C7.20 -8.16 6.10 -8.80 4.80 -8.80C3.10 -8.80 1.90 -7.91 1.90 -6.51C1.90 -5.10 2.90 -4.72 4.80 -4.34C6.80 -3.95 8.00 -3.57 8.00 -2.17C8.00 -0.77 6.70 0.13 4.90 0.13C3.50 0.13 2.30 -0.51 1.70 -1.66M1.70 0.00V-2.55"/><path transform="translate(29.10,-0.75) scale(1,0.6977)" d="M3.30 -11.48V-2.55C3.30 -0.77 4.20 0.13 5.50 0.13C6.80 0.13 7.80 -0.51 8.50 -1.66M0.90 -8.67H7.60"/><path transform="translate(39.10,-0.75) scale(1,0.6977)" d="M2.00 -7.27C2.70 -8.29 3.70 -8.80 4.80 -8.80C6.30 -8.80 7.10 -7.78 7.10 -6.12V0.00H9.00M7.10 -4.59C6.20 -4.98 5.20 -5.10 4.30 -5.10C2.60 -5.10 1.40 -4.08 1.40 -2.42C1.40 -0.89 2.40 0.13 3.80 0.13C5.10 0.13 6.30 -0.77 7.10 -2.17"/><path transform="translate(48.10,-0.75) scale(1,0.6977)" d="M0.70 -8.67H2.40V0.00M0.70 0.00H4.00M2.40 -6.25C3.20 -7.91 4.20 -8.80 5.30 -8.80C6.60 -8.80 7.30 -7.65 7.30 -5.87V0.00M5.70 0.00H8.90"/><path transform="translate(58.10,-0.75) scale(1,0.6977)" d="M8.10 -5.87V-8.67M8.10 -6.89C7.50 -8.16 6.40 -8.80 5.10 -8.80C2.90 -8.80 1.30 -7.02 1.30 -4.34C1.30 -1.66 2.90 0.13 5.10 0.13C6.60 0.13 7.80 -0.64 8.50 -2.04"/><path transform="translate(68.10,-0.75) scale(1,0.6977)" d="M1.30 -4.46H8.30C8.30 -7.14 6.80 -8.80 4.80 -8.80C2.80 -8.80 1.30 -7.02 1.30 -4.34C1.30 -1.66 2.80 0.13 5.00 0.13C6.50 0.13 7.70 -0.64 8.30 -1.79"/><path transform="translate(87.10,-0.75) scale(1,0.6977)" d="M8.30 -8.16V-11.61M8.30 -9.44C7.60 -10.97 6.40 -11.74 5.10 -11.74C2.70 -11.74 1.00 -9.31 1.00 -5.80C1.00 -2.30 2.70 0.13 5.10 0.13C6.70 0.13 7.90 -0.77 8.60 -2.55"/><path transform="translate(97.10,-0.75) scale(1,0.6977)" d="M0.50 -8.67H2.20V-2.81C2.20 -1.02 3.00 0.13 4.30 0.13C5.40 0.13 6.40 -0.77 7.20 -2.42M5.40 -8.67H7.20V0.00H9.00"/><path transform="translate(106.10,-0.75) scale(1,0.6977)" d="M3.30 -11.48V-2.55C3.30 -0.77 4.20 0.13 5.50 0.13C6.80 0.13 7.80 -0.51 8.50 -1.66M0.90 -8.67H7.60"/><path transform="translate(116.10,-0.75) scale(1,0.6977)" d="M1.30 -4.34A3.50 4.46 0 1 0 8.30 -4.34A3.50 4.46 0 1 0 1.30 -4.34Z"/><path transform="translate(126.10,-0.75) scale(1,0.6977)" d="M1.70 0.00H7.00M4.00 0.00V-9.44C4.00 -11.23 4.90 -12.25 6.20 -12.25C7.10 -12.25 7.90 -11.99 8.60 -11.48M1.70 -8.67H8.00"/><path transform="translate(135.10,-0.75) scale(1,0.6977)" d="M1.70 0.00H7.00M4.00 0.00V-9.44C4.00 -11.23 4.90 -12.25 6.20 -12.25C7.10 -12.25 7.90 -11.99 8.60 -11.48M1.70 -8.67H8.00"/><path transform="translate(145.10,-0.75) scale(1,0.6977)" d="M5.20 -2.30L3.30 2.81"/><path transform="translate(164.10,-0.75) scale(1,0.6977)" d="M2.20 -11.61H4.80L8.40 0.00M4.80 -11.61L1.20 0.00M2.50 -3.95H7.10M0.00 0.00H3.10M6.50 0.00H9.60"/></g>
<g transform="translate(60.00,395.00)" fill="none" stroke="#000" stroke-width="2.15" stroke-linejoin="round" stroke-linecap="butt"><path transform="translate(0.00,-0.75) scale(1,0.6977)" d="M2.05 -6.19A2.75 6.19 0 1 0 7.55 -6.19A2.75 6.19 0 1 0 2.05 -6.19Z"/></g>
<g transform="translate(170.40,395.00)" fill="none" stroke="#000" stroke-width="2.15" stroke-linejoin="round" stroke-linecap="butt"><path transform="translate(-0.40,-0.75) scale(1,0.6977)" d="M1.90 -9.18C1.90 -11.23 3.20 -12.50 4.80 -12.50C6.50 -12.50 7.70 -11.10 7.70 -9.18C7.70 -6.76 5.00 -4.34 1.50 0.00H8.00V-1.91"/><path transform="translate(9.60,-0.75) scale(1,0.6977)" d="M2.05 -6.19A2.75 6.19 0 1 0 7.55 -6.19A2.75 6.19 0 1 0 2.05 -6.19Z"/></g>
<g transform="translate(276.40,395.00)" fill="none" stroke="#000" stroke-width="2.15" stroke-linejoin="round" stroke-linecap="butt"><path transform="translate(-0.40,-0.75) scale(1,0.6977)" d="M4.40 0.00H8.00M6.20 0.00V-12.25L1.30 -3.83H8.50"/><path transform="translate(9.60,-0.75) scale(1,0.6977)" d="M2.05 -6.19A2.75 6.19 0 1 0 7.55 -6.19A2.75 6.19 0 1 0 2.05 -6.19Z"/></g>
<g transform="translate(382.40,395.00)" fill="none" stroke="#000" stroke-width="2.15" stroke-linejoin="round" stroke-linecap="butt"><path transform="translate(-0.40,-0.75) scale(1,0.6977)" d="M7.90 -12.12C4.60 -12.12 2.00 -9.18 2.00 -4.21C2.00 -1.40 3.20 0.13 5.00 0.13C6.80 0.13 8.00 -1.53 8.00 -3.83C8.00 -6.12 6.80 -7.65 5.00 -7.65C3.30 -7.65 2.10 -6.12 2.00 -4.21"/><path transform="translate(9.60,-0.75) scale(1,0.6977)" d="M2.05 -6.19A2.75 6.19 0 1 0 7.55 -6.19A2.75 6.19 0 1 0 2.05 -6.19Z"/></g>
<g transform="translate(488.40,395.00)" fill="none" stroke="#000" stroke-width="2.15" stroke-linejoin="round" stroke-linecap="butt"><path transform="translate(-0.40,-0.75) scale(1,0.6977)" d="M2.20 -9.38A2.60 3.06 0 1 0 7.40 -9.38A2.60 3.06 0 1 0 2.20 -9.38ZM1.65 -3.13A3.15 3.25 0 1 0 7.95 -3.13A3.15 3.25 0 1 0 1.65 -3.13Z"/><path transform="translate(9.60,-0.75) scale(1,0.6977)" d="M2.05 -6.19A2.75 6.19 0 1 0 7.55 -6.19A2.75 6.19 0 1 0 2.05 -6.19Z"/></g>
<g transform="translate(594.40,395.00)" fill="none" stroke="#000" stroke-width="2.15" stroke-linejoin="round" stroke-linecap="butt"><path transform="translate(-0.40,-0.75) scale(1,0.6977)" d="M4.90 0.00V-12.37L1.90 -10.59M1.60 0.00H8.10"/><path transform="translate(9.60,-0.75) scale(1,0.6977)" d="M2.05 -6.19A2.75 6.19 0 1 0 7.55 -6.19A2.75 6.19 0 1 0 2.05 -6.19Z"/><path transform="translate(19.60,-0.75) scale(1,0.6977)" d="M2.05 -6.19A2.75 6.19 0 1 0 7.55 -6.19A2.75 6.19 0 1 0 2.05 -6.19Z"/></g>
<g transform="translate(55.10,380.00) rotate(-90)" fill="none" stroke="#000" stroke-width="2.15" stroke-linejoin="round" stroke-linecap="butt"><path transform="translate(0.00,-0.75) scale(1,0.6977)" d="M2.05 -6.19A2.75 6.19 0 1 0 7.55 -6.19A2.75 6.19 0 1 0 2.05 -6.19Z"/></g>
<g transform="translate(55.10,225.10) rotate(-90)" fill="none" stroke="#000" stroke-width="2.15" stroke-linejoin="round" stroke-linecap="butt"><path transform="translate(0.10,-0.75) scale(1,0.6977)" d="M7.50 -12.25H2.40V-6.89C3.10 -7.78 4.00 -8.16 5.00 -8.16C6.90 -8.16 8.20 -6.51 8.20 -4.08C8.20 -1.53 6.80 0.13 4.80 0.13C3.30 0.13 2.00 -0.64 1.30 -1.91"/></g>
<g transform="translate(55.10,74.90) rotate(-90)" fill="none" stroke="#000" stroke-width="2.15" stroke-linejoin="round" stroke-linecap="butt"><path transform="translate(-0.10,-0.75) scale(1,0.6977)" d="M4.90 0.00V-12.37L1.90 -10.59M1.60 0.00H8.10"/><path transform="translate(9.90,-0.75) scale(1,0.6977)" d="M2.05 -6.19A2.75 6.19 0 1 0 7.55 -6.19A2.75 6.19 0 1 0 2.05 -6.19Z"/></g>
<text x="347" y="30" text-anchor="middle">T1052-D3</text>
<text x="335" y="420" text-anchor="middle">Percent of Residues (CA)</text>
<text transform="translate(31,233) rotate(-90)" text-anchor="middle">Distance Cutoff, A</text>
<text x="65" y="395" text-anchor="middle">0 20 40 60 80 100</text>
<text transform="translate(55,220) rotate(-90)" text-anchor="middle">0 5 10</text>
</g>
</svg>
</body></html>
